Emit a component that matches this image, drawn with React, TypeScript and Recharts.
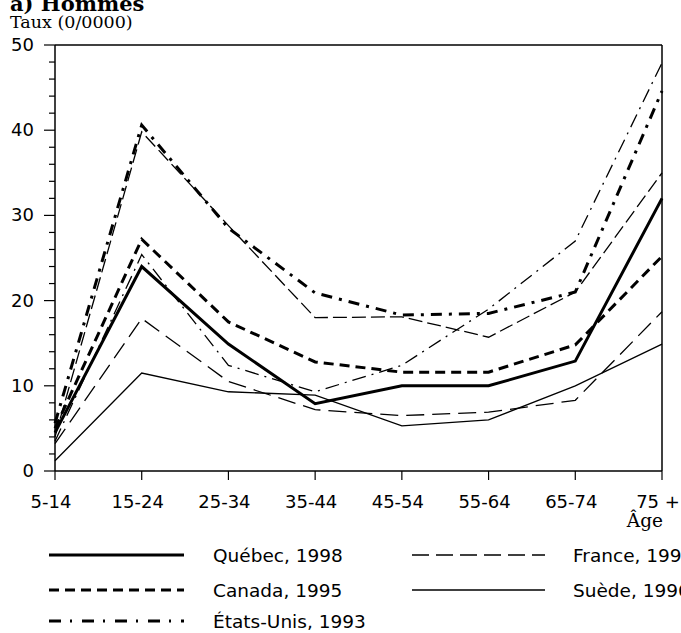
import { LineChart, Line, XAxis, YAxis, ReferenceLine } from "recharts";

// Taux de suicide, hommes, par groupe d'âge (pour 10 000)
const ages = ["5-14", "15-24", "25-34", "35-44", "45-54", "55-64", "65-74", "75 +"];
const quebec = [4.5, 24.0, 14.9, 7.9, 10.0, 10.0, 12.9, 32.0];
const canada = [5.0, 27.2, 17.5, 12.8, 11.6, 11.6, 14.8, 25.2];
const etatsUnis = [5.6, 40.6, 28.5, 20.9, 18.3, 18.5, 21.0, 44.6];
const serieA = [4.0, 39.8, 28.8, 18.0, 18.1, 15.7, 21.0, 35.0];
const serieB = [3.5, 25.4, 12.4, 9.3, 12.4, 19.0, 27.0, 47.9];
const france = [3.2, 17.9, 10.5, 7.2, 6.5, 6.9, 8.3, 18.7];
const suede = [1.2, 11.5, 9.3, 8.9, 5.3, 6.0, 10.0, 14.9];
const yTicks = [0, 2, 4, 6, 8, 10, 12, 14, 16, 18, 20, 22, 24, 26, 28, 30, 32, 34, 36, 38, 40, 42, 44, 46, 48, 50];

const data = ages.map((age, i) => ({
  age,
  quebec: quebec[i],
  canada: canada[i],
  etatsUnis: etatsUnis[i],
  serieA: serieA[i],
  serieB: serieB[i],
  france: france[i],
  suede: suede[i],
}));

const SERIES = [
  { key: "suede", label: "Suède, 1996", width: 1.3, dash: undefined, legendDash: undefined },
  { key: "france", label: "France, 1996", width: 1.3, dash: "18 8", legendDash: "17 7" },
  { key: "serieB", label: "", width: 1.3, dash: "14 6 2 6", legendDash: undefined },
  { key: "serieA", label: "", width: 1.3, dash: "14 5", legendDash: undefined },
  { key: "canada", label: "Canada, 1995", width: 3, dash: "10 6", legendDash: "10 6" },
  { key: "etatsUnis", label: "États-Unis, 1993", width: 3, dash: "11 7 3 7", legendDash: "12 9 2 10" },
  { key: "quebec", label: "Québec, 1998", width: 3, dash: undefined, legendDash: undefined },
];

const LEGEND = [
  { key: "quebec", col: 0, row: 0 },
  { key: "canada", col: 0, row: 1 },
  { key: "etatsUnis", col: 0, row: 2 },
  { key: "france", col: 1, row: 0 },
  { key: "suede", col: 1, row: 1 },
];

const SANS = "'DejaVu Sans', sans-serif";
const SERIF = "'DejaVu Serif', serif";

function YTick(props: any) {
  const { x, y, payload } = props;
  const major = payload.value % 10 === 0;
  return (
    <g>
      <line x1={x - (major ? 11 : 6)} x2={x} y1={y} y2={y} stroke="#000" strokeWidth={1.2} />
      {major && (
        <text x={x - 21} y={y} dy={6} textAnchor="end" fontSize={18} fontFamily={SANS} fill="#000">
          {payload.value}
        </text>
      )}
    </g>
  );
}

function XTick(props: any) {
  const { x, y, payload } = props;
  return (
    <text x={x - 4} y={y + 28} textAnchor="middle" fontSize={18} fontFamily={SANS} fill="#000">
      {payload.value}
    </text>
  );
}

export default function App() {
  const colX = [49, 412];
  const colW = [135, 133];
  const textX = [213, 573];
  const rowY = [555, 590, 621];

  return (
    <div style={{ position: "absolute", left: 0, top: 0, width: 681, height: 633, overflow: "hidden", background: "#fff" }}>
      <LineChart width={681} height={633} data={data} margin={{ top: 45, right: 19, bottom: 0, left: 0 }}>
        <XAxis
          dataKey="age"
          height={162}
          tick={<XTick />}
          tickSize={9}
          tickMargin={0}
          tickLine={{ stroke: "#000", strokeWidth: 1.2 }}
          axisLine={{ stroke: "#000", strokeWidth: 1.5 }}
          interval={0}
        />
        <YAxis
          width={55}
          domain={[0, 50]}
          ticks={yTicks}
          interval={0}
          tick={<YTick />}
          tickSize={0}
          tickMargin={0}
          tickLine={false}
          axisLine={{ stroke: "#000", strokeWidth: 1.5 }}
        />
        <ReferenceLine y={50} stroke="#000" strokeWidth={1.5} />
        <ReferenceLine x="75 +" stroke="#000" strokeWidth={1.5} />
        {SERIES.map((s) => (
          <Line
            key={s.key}
            type="linear"
            dataKey={s.key}
            stroke="#000"
            strokeWidth={s.width}
            strokeDasharray={s.dash}
            dot={false}
            activeDot={false}
            isAnimationActive={false}
          />
        ))}
      </LineChart>
      <svg width={681} height={633} style={{ position: "absolute", left: 0, top: 0, pointerEvents: "none" }}>
        <text x={10} y={11} fontSize={21} fontWeight="bold" fontFamily={SERIF} fill="#000">
          a) Hommes
        </text>
        <text x={10} y={28} fontSize={17.5} fontFamily={SERIF} fill="#000">
          Taux (0/0000)
        </text>
        <text x={663} y={527} textAnchor="end" fontSize={18.5} fontFamily={SERIF} fill="#000">
          Âge
        </text>
        {LEGEND.map((item) => {
          const s = SERIES.find((d) => d.key === item.key)!;
          const y = rowY[item.row];
          return (
            <g key={item.key}>
              <line
                x1={colX[item.col]}
                x2={colX[item.col] + colW[item.col]}
                y1={y}
                y2={y}
                stroke="#000"
                strokeWidth={s.width}
                strokeDasharray={s.legendDash}
              />
              <text x={textX[item.col]} y={y + 7} fontSize={18.5} fontFamily={SANS} fill="#000">
                {s.label}
              </text>
            </g>
          );
        })}
      </svg>
    </div>
  );
}
